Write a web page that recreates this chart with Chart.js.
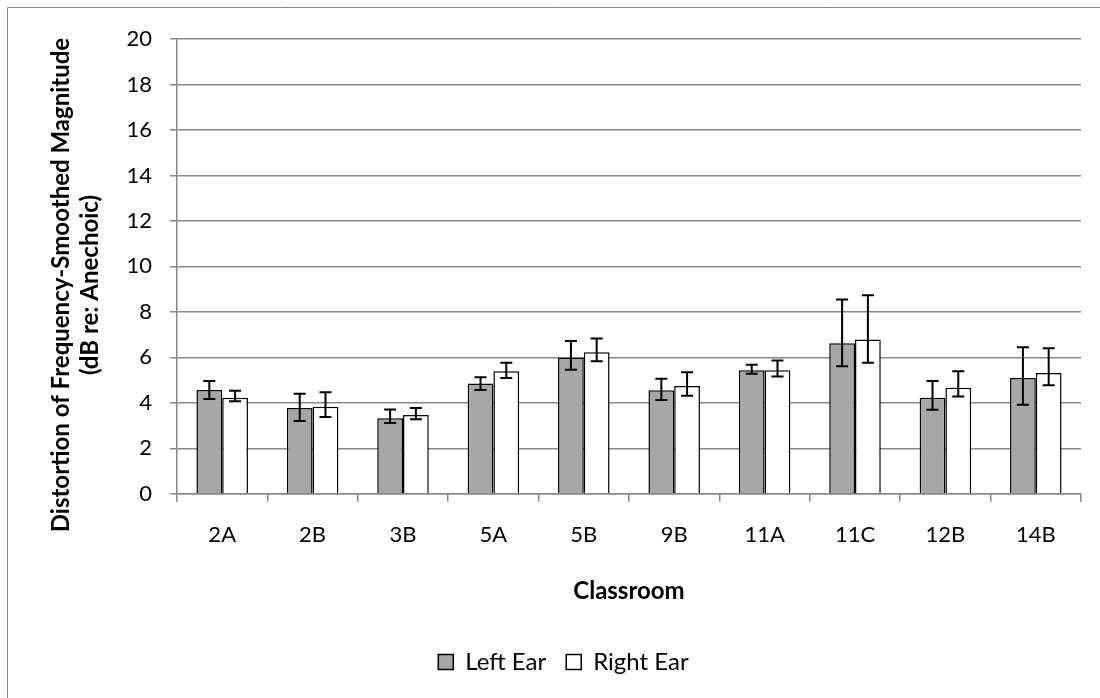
<!DOCTYPE html>
<html>
<head>
<meta charset="utf-8">
<script src="https://cdn.jsdelivr.net/npm/chart.js@4.4.1/dist/chart.umd.min.js"></script>
<style>
  body { margin: 0; background: #fff; }
  #wrap { width: 1100px; height: 698px; }
</style>
</head>
<body>
<div id="wrap"><canvas id="myChart" width="1100" height="698"></canvas></div>
<script>
var classrooms = ['2A', '2B', '3B', '5A', '5B', '9B', '11A', '11C', '12B', '14B'];
var leftEar = [4.56, 3.77, 3.32, 4.85, 5.98, 4.55, 5.43, 6.62, 4.22, 5.09];
var leftHigh = [4.96, 4.40, 3.71, 5.12, 6.72, 5.06, 5.67, 8.54, 4.96, 6.45];
var leftLow = [4.17, 3.20, 3.11, 4.56, 5.45, 4.12, 5.28, 5.61, 3.70, 3.92];
var rightEar = [4.22, 3.83, 3.46, 5.39, 6.23, 4.74, 5.43, 6.78, 4.66, 5.31];
var rightHigh = [4.53, 4.47, 3.77, 5.76, 6.83, 5.34, 5.86, 8.73, 5.39, 6.40];
var rightLow = [4.07, 3.38, 3.28, 5.09, 5.83, 4.31, 5.16, 5.76, 4.28, 4.77];
var yTicks = [0, 2, 4, 6, 8, 10, 12, 14, 16, 18, 20];
var yTitle = ['Distortion of Frequency-Smoothed Magnitude', '(dB re: Anechoic)'];

var fontFamily = 'Lato, "Open Sans", sans-serif';
var gridGray = '#878787';

// error bars drawn on top of each bar
var errorBars = {
    id: 'errorBars',
    afterDatasetsDraw: function(chart) {
        var ctx = chart.ctx;
        var y = chart.scales.y;
        var ranges = [[leftLow, leftHigh], [rightLow, rightHigh]];
        ctx.save();
        ctx.strokeStyle = '#000';
        ctx.lineWidth = 2;
        chart.data.datasets.forEach(function(ds, d) {
            var meta = chart.getDatasetMeta(d);
            meta.data.forEach(function(bar, i) {
                var top = y.getPixelForValue(ranges[d][1][i]);
                var bot = y.getPixelForValue(ranges[d][0][i]);
                var x = bar.x;
                ctx.beginPath();
                ctx.moveTo(x, top); ctx.lineTo(x, bot);
                ctx.moveTo(x - 6, top); ctx.lineTo(x + 6, top);
                ctx.moveTo(x - 6, bot); ctx.lineTo(x + 6, bot);
                ctx.stroke();
            });
        });
        ctx.restore();
    }
};

// white background, partial frame and the y axis title
var frame = {
    id: 'frame',
    beforeDraw: function(chart) {
        var ctx = chart.ctx;
        ctx.save();
        ctx.fillStyle = '#fff';
        ctx.fillRect(0, 0, chart.width, chart.height);
        ctx.strokeStyle = gridGray;
        ctx.lineWidth = 1;
        ctx.beginPath();
        ctx.moveTo(7.5, chart.height);
        ctx.lineTo(7.5, 7.5);
        ctx.lineTo(chart.width, 7.5);
        ctx.stroke();
        ctx.restore();
    },
    afterDraw: function(chart) {
        var ctx = chart.ctx;
        ctx.save();
        ctx.translate(0, 285);
        ctx.rotate(-Math.PI / 2);
        ctx.fillStyle = '#000';
        ctx.font = 'bold 24px ' + fontFamily;
        ctx.textAlign = 'center';
        ctx.textBaseline = 'middle';
        ctx.fillText(yTitle[0], 0, 61);
        ctx.fillText(yTitle[1], 0, 90);
        ctx.restore();
    }
};

var ctx = document.getElementById('myChart').getContext('2d');
var myChart = new Chart(ctx, {
    type: 'bar',
    data: {
        labels: classrooms,
        datasets: [{
            label: 'Left Ear',
            data: leftEar,
            backgroundColor: '#a6a6a6',
            borderColor: '#000',
            borderWidth: 1.5
        }, {
            label: 'Right Ear',
            data: rightEar,
            backgroundColor: '#fff',
            borderColor: '#000',
            borderWidth: 1.5
        }]
    },
    options: {
        responsive: false,
        animation: false,
        categoryPercentage: 0.57,
        barPercentage: 1.0,
        layout: { padding: { left: 46, right: 19, top: 39, bottom: 14 } },
        plugins: {
            legend: {
                position: 'bottom',
                labels: {
                    color: '#000',
                    font: { family: fontFamily, size: 24 },
                    boxWidth: 15,
                    boxHeight: 15,
                    padding: 20
                }
            },
            tooltip: { enabled: false }
        },
        scales: {
            x: {
                grid: {
                    display: true,
                    drawOnChartArea: false,
                    drawTicks: true,
                    tickLength: 8,
                    color: gridGray,
                    lineWidth: 1.5
                },
                border: { color: gridGray, width: 1.5 },
                ticks: {
                    color: '#000',
                    padding: 20,
                    font: { family: fontFamily, size: 22 }
                },
                title: {
                    display: true,
                    text: 'Classroom',
                    color: '#000',
                    font: { family: fontFamily, size: 24, weight: 'bold' },
                    padding: { top: 9, bottom: 24 }
                }
            },
            y: {
                min: 0,
                max: 20,
                afterBuildTicks: function(scale) {
                    scale.ticks = yTicks.map(function(v) { return { value: v }; });
                },
                afterFit: function(scale) {
                    scale.width = 131;
                },
                grid: {
                    color: gridGray,
                    lineWidth: 1.5,
                    tickLength: 7
                },
                border: { color: gridGray, width: 1.5 },
                ticks: {
                    color: '#000',
                    padding: 18,
                    font: { family: fontFamily, size: 22 }
                }
            }
        }
    },
    plugins: [errorBars, frame]
});
</script>
</body>
</html>
